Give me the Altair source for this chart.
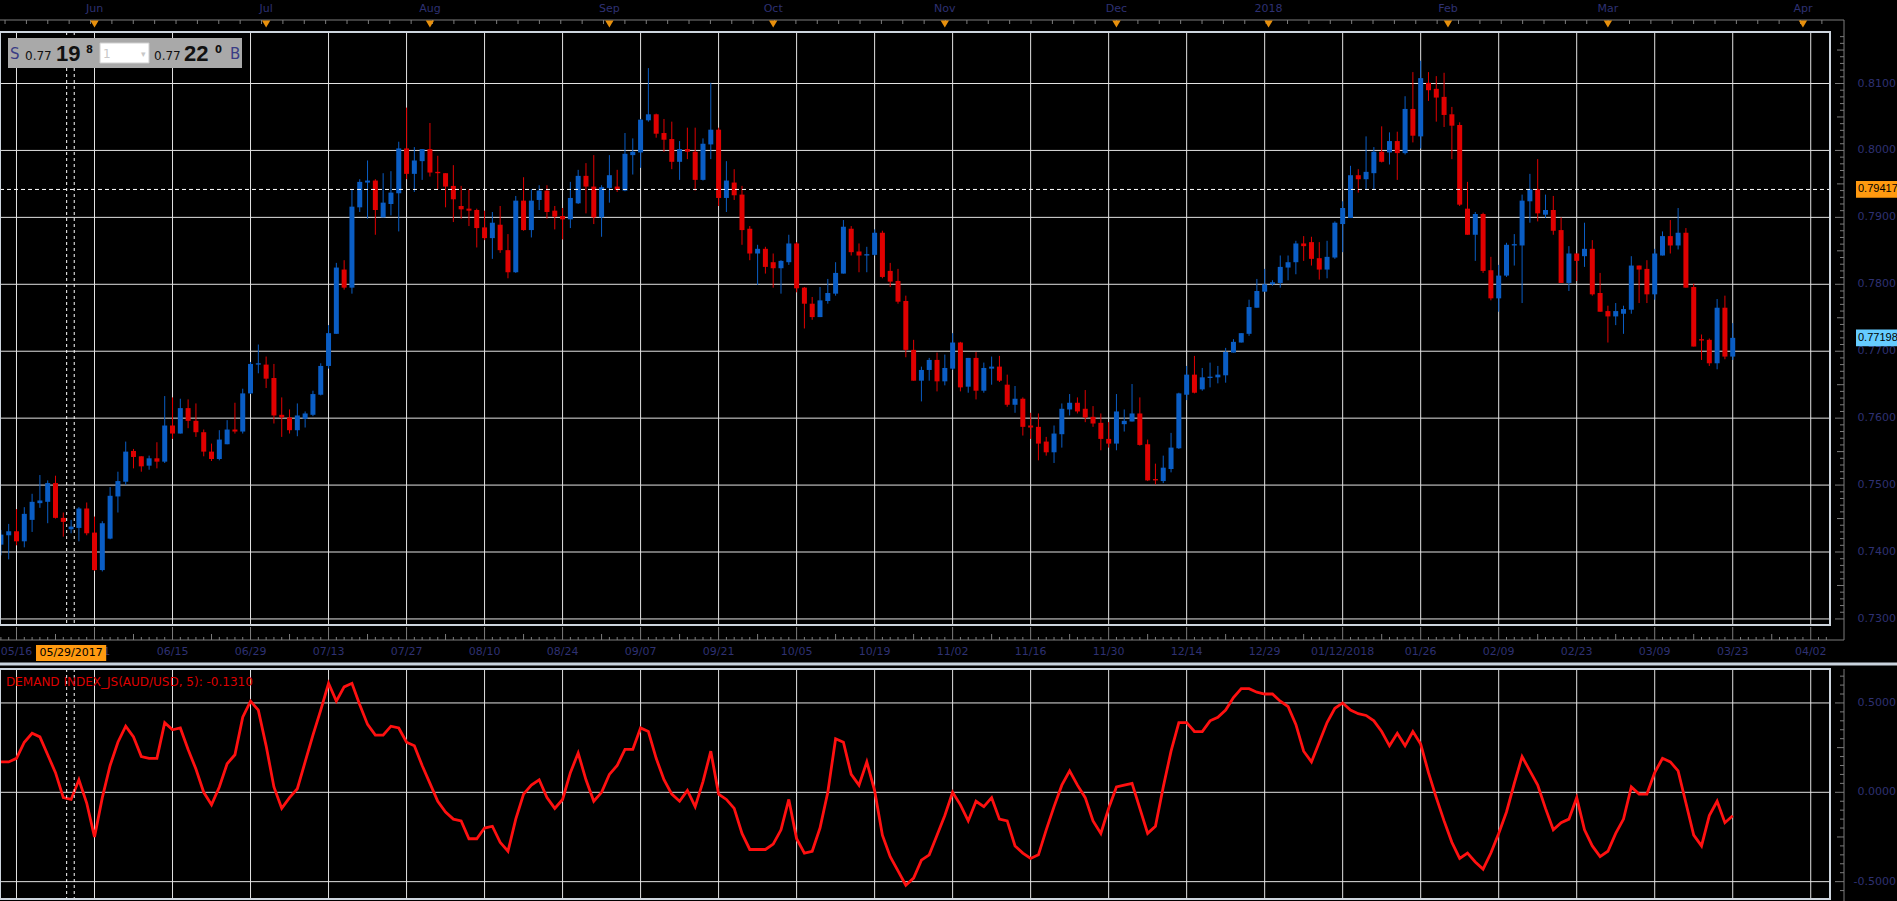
import altair as alt
import numpy as np
import pandas as pd

# ---------------- data ----------------
candle_idx = list(range(-2, 221))
opens = [0.7411,0.7425,0.7431,0.7416,0.7448,0.7473,0.7475,0.7503,0.7451,0.7434,
0.7436,0.7465,0.7429,0.7373,0.7420,0.7483,0.7505,0.7551,0.7543,0.7529,
0.7540,0.7535,0.7589,0.7577,0.7615,0.7596,0.7579,0.7550,0.7539,0.7561,
0.7583,0.7580,0.7637,0.7680,0.7680,0.7660,0.7605,0.7601,0.7582,0.7599,
0.7605,0.7635,0.7678,0.7726,0.7822,0.7795,0.7915,0.7952,0.7955,0.7900,
0.7920,0.7936,0.8003,0.7965,0.7984,0.8002,0.7968,0.7966,0.7947,0.7917,
0.7913,0.7911,0.7885,0.7869,0.7889,0.7851,0.7818,0.7925,0.7881,0.7926,
0.7940,0.7910,0.7902,0.7897,0.7921,0.7962,0.7946,0.7900,0.7944,0.7946,
0.7940,0.7993,0.7997,0.8045,0.8054,0.8026,0.8017,0.7983,0.8002,0.7998,
0.7956,0.8009,0.8031,0.7929,0.7952,0.7934,0.7883,0.7846,0.7853,0.7833,
0.7824,0.7833,0.7861,0.7795,0.7771,0.7751,0.7775,0.7786,0.7816,0.7883,
0.7849,0.7843,0.7844,0.7877,0.7820,0.7805,0.7775,0.7702,0.7656,0.7672,
0.7687,0.7655,0.7674,0.7713,0.7647,0.7690,0.7641,0.7674,0.7677,0.7650,
0.7620,0.7629,0.7589,0.7587,0.7565,0.7549,0.7576,0.7613,0.7623,0.7614,
0.7602,0.7593,0.7569,0.7562,0.7591,0.7595,0.7607,0.7561,0.7509,0.7506,
0.7524,0.7555,0.7635,0.7665,0.7643,0.7660,0.7661,0.7664,0.7698,0.7713,
0.7726,0.7765,0.7789,0.7800,0.7802,0.7825,0.7833,0.7861,0.7863,0.7839,
0.7822,0.7840,0.7890,0.7899,0.7963,0.7957,0.7966,0.7998,0.7997,0.8014,
0.7996,0.8062,0.8021,0.8101,0.8092,0.8080,0.8054,0.8038,0.7913,0.7874,
0.7905,0.7821,0.7779,0.7813,0.7858,0.7858,0.7924,0.7942,0.7904,0.7911,
0.7881,0.7802,0.7846,0.7842,0.7853,0.7787,0.7760,0.7752,0.7756,0.7762,
0.7828,0.7823,0.7785,0.7843,0.7872,0.7858,0.7877,0.7796,0.7718,0.7717,
0.7682,0.7765,0.7692]
highs = [0.7433,0.7442,0.7464,0.7467,0.7487,0.7515,0.7507,0.7514,0.7459,0.7448,
0.7467,0.7474,0.7453,0.7446,0.7497,0.7520,0.7565,0.7554,0.7543,0.7544,
0.7564,0.7633,0.7631,0.7629,0.7628,0.7622,0.7583,0.7562,0.7582,0.7597,
0.7623,0.7644,0.7684,0.7710,0.7692,0.7681,0.7631,0.7613,0.7622,0.7610,
0.7641,0.7682,0.7739,0.7832,0.7836,0.7942,0.7957,0.7985,0.7957,0.7966,
0.7969,0.8013,0.8064,0.8005,0.8002,0.8041,0.7992,0.7966,0.7978,0.7947,
0.7942,0.7913,0.7910,0.7908,0.7917,0.7875,0.7932,0.7960,0.7942,0.7948,
0.7948,0.7917,0.7914,0.7953,0.7971,0.7981,0.7993,0.7948,0.7993,0.7971,
0.8026,0.8018,0.8047,0.8123,0.8055,0.8047,0.8043,0.8014,0.8034,0.8034,
0.8018,0.8101,0.8034,0.7984,0.7972,0.7947,0.7887,0.7859,0.7856,0.7846,
0.7836,0.7874,0.7863,0.7796,0.7781,0.7796,0.7808,0.7833,0.7896,0.7887,
0.7861,0.7856,0.7882,0.7880,0.7832,0.7823,0.7783,0.7717,0.7677,0.7690,
0.7698,0.7695,0.7727,0.7714,0.7690,0.7699,0.7683,0.7692,0.7693,0.7665,
0.7648,0.7631,0.7608,0.7607,0.7572,0.7589,0.7622,0.7636,0.7631,0.7642,
0.7618,0.7607,0.7594,0.7636,0.7613,0.7651,0.7631,0.7568,0.7532,0.7544,
0.7578,0.7638,0.7678,0.7693,0.7675,0.7683,0.7678,0.7705,0.7718,0.7727,
0.7777,0.7808,0.7823,0.7806,0.7843,0.7843,0.7865,0.7872,0.7871,0.7863,
0.7865,0.7894,0.7924,0.7977,0.7972,0.8021,0.8005,0.8036,0.8027,0.8028,
0.8081,0.8117,0.8134,0.8117,0.8111,0.8116,0.8065,0.8042,0.7953,0.7908,
0.7907,0.7841,0.7829,0.7862,0.7875,0.7934,0.7965,0.7987,0.7934,0.7932,
0.7900,0.7857,0.7846,0.7892,0.7866,0.7817,0.7768,0.7772,0.7768,0.7842,
0.7828,0.7836,0.7853,0.7879,0.7896,0.7914,0.7884,0.7801,0.7725,0.7719,
0.7778,0.7783,0.7742]
lows = [0.7395,0.7389,0.7410,0.7407,0.7430,0.7466,0.7443,0.7450,0.7423,0.7428,
0.7416,0.7425,0.7372,0.7371,0.7419,0.7459,0.7500,0.7525,0.7520,0.7523,
0.7525,0.7533,0.7569,0.7577,0.7585,0.7572,0.7543,0.7536,0.7537,0.7561,
0.7577,0.7577,0.7636,0.7667,0.7645,0.7592,0.7572,0.7577,0.7573,0.7586,
0.7603,0.7634,0.7674,0.7726,0.7792,0.7786,0.7908,0.7898,0.7874,0.7900,
0.7903,0.7879,0.7957,0.7938,0.7956,0.7961,0.7942,0.7915,0.7893,0.7898,
0.7887,0.7855,0.7866,0.7838,0.7847,0.7809,0.7817,0.7880,0.7870,0.7911,
0.7898,0.7882,0.7867,0.7884,0.7920,0.7906,0.7890,0.7871,0.7922,0.7938,
0.7939,0.7964,0.7974,0.8043,0.8019,0.7998,0.7972,0.7956,0.7987,0.7940,
0.7955,0.7987,0.7917,0.7908,0.7926,0.7859,0.7836,0.7799,0.7816,0.7795,
0.7786,0.7829,0.7788,0.7734,0.7747,0.7751,0.7771,0.7783,0.7816,0.7843,
0.7818,0.7818,0.7843,0.7809,0.7796,0.7771,0.7691,0.7656,0.7625,0.7656,
0.7640,0.7649,0.7672,0.7640,0.7638,0.7628,0.7638,0.7650,0.7654,0.7617,
0.7608,0.7574,0.7569,0.7537,0.7544,0.7533,0.7556,0.7604,0.7607,0.7594,
0.7587,0.7552,0.7556,0.7552,0.7580,0.7595,0.7559,0.7506,0.7501,0.7503,
0.7519,0.7554,0.7627,0.7637,0.7641,0.7646,0.7652,0.7653,0.7698,0.7713,
0.7723,0.7765,0.7789,0.7798,0.7795,0.7806,0.7815,0.7835,0.7828,0.7807,
0.7809,0.7838,0.7848,0.7899,0.7937,0.7942,0.7942,0.7982,0.7979,0.7956,
0.7994,0.8012,0.8003,0.8074,0.8043,0.8035,0.7987,0.7917,0.7874,0.7835,
0.7817,0.7776,0.7759,0.7811,0.7828,0.7772,0.7892,0.7894,0.7899,0.7874,
0.7802,0.7790,0.7805,0.7826,0.7783,0.7759,0.7713,0.7739,0.7726,0.7756,
0.7772,0.7772,0.7777,0.7843,0.7846,0.7852,0.7795,0.7707,0.7687,0.7678,
0.7673,0.7688,0.7687]
closes = [0.7426,0.7431,0.7416,0.7457,0.7475,0.7477,0.7503,0.7451,0.7445,0.7438,
0.7465,0.7428,0.7373,0.7443,0.7484,0.7506,0.7550,0.7542,0.7528,0.7540,
0.7535,0.7589,0.7577,0.7615,0.7596,0.7579,0.7550,0.7539,0.7568,0.7583,
0.7580,0.7637,0.7681,0.7682,0.7659,0.7604,0.7601,0.7582,0.7604,0.7607,
0.7636,0.7678,0.7727,0.7825,0.7795,0.7916,0.7953,0.7955,0.7911,0.7922,
0.7937,0.8003,0.7965,0.7985,0.8002,0.7967,0.7966,0.7946,0.7927,0.7912,
0.7910,0.7884,0.7869,0.7892,0.7851,0.7818,0.7925,0.7881,0.7925,0.7940,
0.7908,0.7901,0.7897,0.7929,0.7962,0.7946,0.7900,0.7945,0.7963,0.7941,
0.7995,0.7998,0.8046,0.8054,0.8025,0.8016,0.7983,0.8002,0.7998,0.7956,
0.8010,0.8031,0.7929,0.7955,0.7933,0.7881,0.7846,0.7853,0.7826,0.7824,
0.7835,0.7861,0.7794,0.7771,0.7751,0.7776,0.7787,0.7817,0.7886,0.7848,
0.7843,0.7845,0.7877,0.7811,0.7804,0.7774,0.7702,0.7656,0.7672,0.7687,
0.7655,0.7675,0.7713,0.7646,0.7690,0.7641,0.7675,0.7677,0.7656,0.7620,
0.7629,0.7587,0.7586,0.7562,0.7549,0.7577,0.7614,0.7623,0.7610,0.7601,
0.7592,0.7569,0.7562,0.7610,0.7596,0.7607,0.7560,0.7507,0.7507,0.7526,
0.7556,0.7637,0.7665,0.7638,0.7661,0.7662,0.7665,0.7699,0.7714,0.7727,
0.7766,0.7790,0.7800,0.7803,0.7826,0.7833,0.7861,0.7857,0.7838,0.7822,
0.7841,0.7892,0.7914,0.7963,0.7957,0.7968,0.7998,0.7983,0.8014,0.7996,
0.8062,0.8022,0.8108,0.8090,0.8079,0.8053,0.8037,0.7919,0.7874,0.7905,
0.7820,0.7779,0.7813,0.7859,0.7860,0.7925,0.7942,0.7906,0.7911,0.7880,
0.7802,0.7846,0.7835,0.7853,0.7785,0.7759,0.7752,0.7760,0.7763,0.7828,
0.7822,0.7785,0.7846,0.7872,0.7858,0.7877,0.7795,0.7707,0.7716,0.7682,
0.7765,0.7692,0.7720]

demand_vals = [0.17,0.17,0.19,0.28,0.33,0.31,0.21,0.11,-0.03,-0.04,
0.07,-0.06,-0.25,-0.03,0.15,0.28,0.37,0.31,0.20,0.19,
0.19,0.39,0.35,0.36,0.24,0.13,0.00,-0.07,0.03,0.16,
0.21,0.42,0.51,0.46,0.26,0.03,-0.09,-0.03,0.02,0.17,
0.32,0.46,0.61,0.51,0.59,0.61,0.49,0.38,0.32,0.32,
0.37,0.36,0.28,0.26,0.15,0.05,-0.05,-0.11,-0.15,-0.16,
-0.26,-0.26,-0.20,-0.19,-0.28,-0.33,-0.15,-0.01,0.04,0.07,
-0.03,-0.09,-0.04,0.11,0.22,0.07,-0.05,0.00,0.10,0.15,
0.24,0.24,0.36,0.34,0.19,0.07,-0.01,-0.05,0.01,-0.08,
0.06,0.23,-0.01,-0.04,-0.09,-0.23,-0.32,-0.32,-0.32,-0.29,
-0.21,-0.04,-0.26,-0.34,-0.33,-0.20,0.00,0.30,0.28,0.10,
0.04,0.17,0.01,-0.24,-0.36,-0.44,-0.52,-0.48,-0.38,-0.35,
-0.24,-0.13,0.00,-0.07,-0.16,-0.05,-0.08,-0.03,-0.15,-0.16,
-0.30,-0.34,-0.37,-0.35,-0.21,-0.08,0.04,0.12,0.04,-0.03,
-0.16,-0.23,-0.09,0.03,0.04,0.05,-0.09,-0.23,-0.19,0.03,
0.23,0.39,0.39,0.34,0.34,0.40,0.42,0.46,0.53,0.58,
0.58,0.56,0.55,0.55,0.51,0.48,0.38,0.23,0.17,0.28,
0.39,0.47,0.50,0.46,0.44,0.43,0.40,0.34,0.26,0.33,
0.26,0.34,0.27,0.11,-0.03,-0.16,-0.28,-0.37,-0.34,-0.39,
-0.43,-0.34,-0.23,-0.11,0.05,0.20,0.12,0.04,-0.09,-0.21,
-0.17,-0.15,-0.03,-0.21,-0.30,-0.36,-0.33,-0.23,-0.15,0.03,
-0.01,-0.01,0.11,0.19,0.17,0.12,-0.06,-0.24,-0.30,-0.13,
-0.05,-0.17,-0.131]

date_labels = ["05/16","06/01","06/15","06/29","07/13","07/27","08/10","08/24",
               "09/07","09/21","10/05","10/19","11/02","11/16","11/30","12/14",
               "12/29","01/12/2018","01/26","02/09","02/23","03/09","03/23","04/02"]
grid_idx = list(range(0, 231, 10))
month_names = ["Jun","Jul","Aug","Sep","Oct","Nov","Dec","2018","Feb","Mar","Apr"]
month_idx = [10, 32, 53, 76, 97, 119, 141, 160.5, 183.5, 204, 229]
price_ticks = [0.73,0.74,0.75,0.76,0.77,0.78,0.79,0.80,0.81]
price_tick_labels = ["0.7300","0.7400","0.7500","0.7600","0.7700","0.7800","0.7900","0.8000","0.8100"]
di_ticks = [-0.5, 0.0, 0.5]
di_tick_labels = ["-0.5000", "0.0000", "0.5000"]
current_price = 0.79417
last_price = 0.77198
cross_idx = [6.43, 7.4]
cross_center = 7
cross_label = "05/29/2017"
indicator_title = "DEMAND INDEX_JS(AUD/USD, 5): -0.1310"

# ---------------- layout / style ----------------
W, H1, H2, GAP = 1830, 593, 230, 44
L0 = H1 + GAP           # top of lower panel (plot coords)
HT = L0 + H2            # total plot height
TOP = 32
AX = W + 14
XDOM = [-2.115, 232.47]
PX_PER_PRICE = 6693.0
P_TOP = 0.817695
YDOM = [P_TOP - HT / PX_PER_PRICE, P_TOP]          # price scale over the whole height
PX_PER_DI = 178.7
DI_ZERO = 760.3                                       # pixel row of 0.0 (plot coords)
DDOM = [-(HT - DI_ZERO) / PX_PER_DI, DI_ZERO / PX_PER_DI]
FONT = "DejaVu Sans"
NAVY = "#2e3172"
GRID = "#e2e2e2"
FRAME = "#7c7c7c"
BORDER = "#cdd5de"
UP = "#0a5dc4"
DOWN = "#e00000"
ORANGE = "#ff9a10"
SKY = "#66ccff"

candles = pd.DataFrame({"idx": candle_idx, "open": opens, "high": highs,
                        "low": lows, "close": closes})
candles["dir"] = np.where(candles["close"] >= candles["open"], "up", "down")
demand = pd.DataFrame({"idx": list(range(-2, -2 + len(demand_vals))), "di": demand_vals})
cross_df = pd.DataFrame({"idx": cross_idx})
months = pd.DataFrame({"idx": month_idx, "name": month_names})
gridx = pd.DataFrame({"idx": grid_idx, "lab": date_labels})
pgrid = pd.DataFrame({"p": price_ticks, "lab": price_tick_labels})
dgrid = pd.DataFrame({"d": di_ticks, "lab": di_tick_labels})
one = pd.DataFrame({"k": [0]})

xs = alt.Scale(domain=XDOM, nice=False, zero=False)
ys = alt.Scale(domain=YDOM, nice=False, zero=False)
ds = alt.Scale(domain=DDOM, nice=False, zero=False)


def X(f):
    return alt.X(f, scale=xs, axis=None, title=None)


def YP(f):
    return alt.Y(f, scale=ys, axis=None, title=None)


def YD(f):
    return alt.Y(f, scale=ds, axis=None, title=None)


def prule(x=None, x2=None, y=None, y2=None, c=FRAME, w=1):
    enc = {}
    if x is not None: enc["x"] = alt.value(x)
    if x2 is not None: enc["x2"] = alt.value(x2)
    if y is not None: enc["y"] = alt.value(y)
    if y2 is not None: enc["y2"] = alt.value(y2)
    return alt.Chart(one).mark_rule(color=c, strokeWidth=w).encode(**enc)


def txt(s, x, y, size, c, bold=False, baseline="alphabetic", font=FONT, align="left"):
    return alt.Chart(one).mark_text(text=s, align=align, baseline=baseline, font=font,
                                    fontSize=size, fontWeight="bold" if bold else "normal",
                                    color=c).encode(x=alt.value(x), y=alt.value(y))


color = alt.Color("dir:N", scale=alt.Scale(domain=["up", "down"], range=[UP, DOWN]), legend=None)
layers = []

# ---------- grids ----------
layers.append(alt.Chart(gridx).mark_rule(color=GRID, strokeWidth=1).encode(
    x=X("idx:Q"), y=alt.value(0), y2=alt.value(H1)))
layers.append(alt.Chart(gridx).mark_rule(color=GRID, strokeWidth=1).encode(
    x=X("idx:Q"), y=alt.value(L0), y2=alt.value(HT)))
layers.append(alt.Chart(pgrid).mark_rule(color=GRID, strokeWidth=1).encode(
    y=YP("p:Q"), x=alt.value(0), x2=alt.value(W)))
layers.append(alt.Chart(dgrid).mark_rule(color=GRID, strokeWidth=1).encode(
    y=YD("d:Q"), x=alt.value(0), x2=alt.value(W)))

# ---------- candles ----------
layers.append(alt.Chart(candles).mark_rule(strokeWidth=1).encode(
    x=X("idx:Q"), y=YP("low:Q"), y2="high:Q", color=color))
layers.append(alt.Chart(candles).mark_rule(strokeWidth=5, strokeCap="butt").encode(
    x=X("idx:Q"), y=YP("open:Q"), y2="close:Q", color=color))

# ---------- indicator line ----------
layers.append(alt.Chart(demand).mark_line(color="#ff1010", strokeWidth=2.8).encode(
    x=X("idx:Q"), y=YD("di:Q")))

# ---------- crosshair ----------
layers.append(alt.Chart(one).mark_rule(color="white", strokeDash=[4, 3], strokeWidth=1).encode(
    y=alt.YDatum(current_price, scale=ys, axis=None), x=alt.value(0), x2=alt.value(W)))
layers.append(alt.Chart(cross_df).mark_rule(color="white", strokeDash=[3, 3], strokeWidth=1).encode(
    x=X("idx:Q"), y=alt.value(0), y2=alt.value(H1)))
layers.append(alt.Chart(cross_df).mark_rule(color="white", strokeDash=[3, 3], strokeWidth=1).encode(
    x=X("idx:Q"), y=alt.value(L0), y2=alt.value(HT)))

# ---------- panel borders ----------
layers.append(alt.Chart(one).mark_rect(filled=False, stroke=BORDER, strokeWidth=2).encode(
    x=alt.value(0), x2=alt.value(W), y=alt.value(0), y2=alt.value(H1)))
layers.append(alt.Chart(one).mark_rect(filled=False, stroke=BORDER, strokeWidth=2).encode(
    x=alt.value(0), x2=alt.value(W), y=alt.value(L0), y2=alt.value(HT)))
layers.append(prule(x=0, x2=W + 67, y=L0 - 5, c="#c9d3de", w=3))

# ---------- outer axis frame ----------
layers += [prule(x=0, x2=AX, y=-12), prule(x=AX, y=-12, y2=H1 + 15), prule(x=0, x2=AX, y=H1 + 15),
           prule(x=AX, y=L0, y2=HT + 2)]

# top axis: ticks, month names, markers
top_ticks = pd.DataFrame({"idx": [round(-1.47 + 2.74 * k, 2) for k in range(86)]})
layers.append(alt.Chart(top_ticks).mark_rule(color=FRAME).encode(
    x=X("idx:Q"), y=alt.value(-12), y2=alt.value(-8)))
layers.append(alt.Chart(months).mark_text(font=FONT, fontSize=11, color=NAVY, baseline="middle").encode(
    x=X("idx:Q"), y=alt.value(-23), text="name:N"))
layers.append(alt.Chart(months).mark_point(shape="triangle-down", filled=True, color="#e8900c",
                                           size=70, opacity=1).encode(x=X("idx:Q"), y=alt.value(-8)))

# bottom axis (main panel): ticks pointing up + date labels
bt_minor = pd.DataFrame({"idx": [i for i in range(-2, 233) if i % 5 != 0]})
bt_mid = pd.DataFrame({"idx": [i for i in range(-2, 233) if i % 10 == 5]})
bt_major = pd.DataFrame({"idx": [i for i in range(-2, 233) if i % 10 == 0]})
for dfb, ln in ((bt_minor, 3), (bt_mid, 6), (bt_major, 13)):
    layers.append(alt.Chart(dfb).mark_rule(color=FRAME).encode(
        x=X("idx:Q"), y=alt.value(H1 + 15), y2=alt.value(H1 + 15 - ln)))
layers.append(alt.Chart(gridx).mark_text(font=FONT, fontSize=11, color=NAVY, baseline="middle").encode(
    x=X("idx:Q"), y=alt.value(H1 + 27), text="lab:N"))

# right axis (main): ticks pointing left + labels
pt = np.round(np.arange(0.730, 0.8176, 0.001), 3)
pt_major = pd.DataFrame({"p": [v for v in pt if abs(v * 100 - round(v * 100)) < 1e-6]})
pt_mid = pd.DataFrame({"p": [v for v in pt if abs(v * 200 - round(v * 200)) < 1e-6 and abs(v * 100 - round(v * 100)) > 1e-6]})
pt_minor = pd.DataFrame({"p": [v for v in pt if abs(v * 200 - round(v * 200)) > 1e-6]})
for dfp, ln in ((pt_minor, 4), (pt_mid, 7), (pt_major, 9)):
    layers.append(alt.Chart(dfp).mark_rule(color=FRAME).encode(
        y=YP("p:Q"), x=alt.value(AX - ln), x2=alt.value(AX)))
layers.append(alt.Chart(pgrid).mark_text(font=FONT, fontSize=11, color=NAVY, align="right",
                                         baseline="middle").encode(
    y=YP("p:Q"), x=alt.value(W + 66), text="lab:N"))

# right axis (lower): ticks + labels
dt = np.round(np.arange(-0.55, 0.6751, 0.05), 2)
dt_major = pd.DataFrame({"d": [v for v in dt if abs(v * 2 - round(v * 2)) < 1e-6]})
dt_mid = pd.DataFrame({"d": [v for v in dt if abs(v * 4 - round(v * 4)) < 1e-6 and abs(v * 2 - round(v * 2)) > 1e-6]})
dt_minor = pd.DataFrame({"d": [v for v in dt if abs(v * 4 - round(v * 4)) > 1e-6]})
for dfd, ln in ((dt_minor, 4), (dt_mid, 7), (dt_major, 9)):
    layers.append(alt.Chart(dfd).mark_rule(color=FRAME).encode(
        y=YD("d:Q"), x=alt.value(AX - ln), x2=alt.value(AX)))
layers.append(alt.Chart(dgrid).mark_text(font=FONT, fontSize=11, color=NAVY, align="right",
                                         baseline="middle").encode(
    y=YD("d:Q"), x=alt.value(W + 66), text="lab:N"))

# price tags
for p, fill in ((current_price, ORANGE), (last_price, SKY)):
    layers.append(alt.Chart(one).mark_rect(color=fill).encode(
        x=alt.value(W + 26), x2=alt.value(W + 67),
        y=alt.YDatum(p + 0.00125, scale=ys, axis=None), y2=alt.Y2Datum(p - 0.00125)))
    layers.append(alt.Chart(one).mark_text(text="%.5f" % p, align="left", baseline="middle",
                                           font="Liberation Sans", fontSize=11, color="black").encode(
        x=alt.value(W + 28), y=alt.YDatum(p, scale=ys, axis=None)))

# crosshair date tag
layers.append(alt.Chart(one).mark_rect(color=ORANGE).encode(
    x=alt.XDatum(cross_center - 4.5, scale=xs, axis=None), x2=alt.X2Datum(cross_center + 4.5),
    y=alt.value(H1 + 20), y2=alt.value(H1 + 36)))
layers.append(alt.Chart(one).mark_text(text=cross_label, align="center", baseline="middle", font=FONT,
                                       fontSize=11, color="black").encode(
    x=alt.XDatum(cross_center, scale=xs, axis=None), y=alt.value(H1 + 28)))

# S / B quote widget
layers += [
    alt.Chart(one).mark_rect(color="#a9a9a9").encode(x=alt.value(8), x2=alt.value(242), y=alt.value(6), y2=alt.value(36)),
    alt.Chart(one).mark_rect(color="white", stroke="#cfcfcf").encode(x=alt.value(100), x2=alt.value(149), y=alt.value(11), y2=alt.value(31)),
    txt("S", 10, 27, 15, "#3a3d85"),
    txt("0.77", 25, 28, 12, "#111111"),
    txt("19", 56, 29, 22, "#111111", bold=True, font="Liberation Sans"),
    txt("8", 86, 21, 10, "#111111", bold=True),
    txt("1", 103, 26, 12, "#c8c8c8"),
    txt("\u25be", 141, 25, 9, "#c8c8c8"),
    txt("0.77", 154, 28, 12, "#111111"),
    txt("22", 184, 29, 22, "#111111", bold=True, font="Liberation Sans"),
    txt("0", 215, 21, 10, "#111111", bold=True),
    txt("B", 230, 27, 15, "#3a3d85"),
]

# indicator title
layers.append(txt(indicator_title, 6, L0 + 17, 12, "#dd0000"))

chart = alt.layer(*layers).resolve_scale(y="independent").properties(
    width=W, height=HT,
    background="#000000",
    padding={"left": 0, "top": TOP, "right": 67, "bottom": 2},
    autosize=alt.AutoSizeParams(type="none"),
).configure_view(stroke=None)

chart.save("out.html", embed_options={"renderer": "svg", "actions": False})
